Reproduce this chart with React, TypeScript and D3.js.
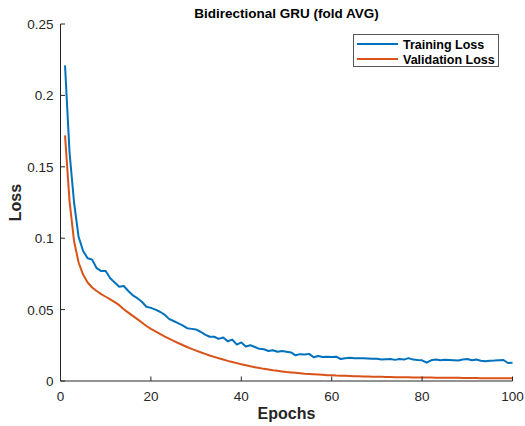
import React from "react";
import * as d3 from "d3";

const epochs: number[] = Array.from({ length: 100 }, (_, i) => i + 1);

const trainingLoss: number[] = [
  0.221, 0.160, 0.125, 0.101, 0.091, 0.086, 0.085, 0.079, 0.077, 0.077,
  0.072, 0.069, 0.066, 0.0665, 0.063, 0.060, 0.058, 0.0555, 0.052, 0.0512,
  0.050, 0.0485, 0.0465, 0.0435, 0.042, 0.0405, 0.039, 0.037, 0.0365, 0.036,
  0.0345, 0.0325, 0.031, 0.031, 0.0295, 0.0305, 0.0278, 0.029, 0.0255, 0.027,
  0.0242, 0.025, 0.0238, 0.0225, 0.0222, 0.021, 0.0215, 0.0205, 0.021, 0.0205,
  0.020, 0.018, 0.0188, 0.0185, 0.019, 0.0166, 0.0175, 0.0168, 0.017, 0.0168,
  0.017, 0.0154, 0.016, 0.0163, 0.016, 0.016, 0.016, 0.0158, 0.0155, 0.0156,
  0.015, 0.0152, 0.0154, 0.0148, 0.0154, 0.015, 0.016, 0.015, 0.0147, 0.0145,
  0.0128, 0.0145, 0.015, 0.0146, 0.0148, 0.0147, 0.0146, 0.0144, 0.015, 0.0154,
  0.0145, 0.015, 0.0142, 0.0138, 0.0142, 0.0143, 0.0145, 0.0147, 0.0126, 0.0128,
];

const validationLoss: number[] = [
  0.172, 0.126, 0.098, 0.083, 0.0745, 0.069, 0.0655, 0.063, 0.0608, 0.059,
  0.0572, 0.0552, 0.0531, 0.0503, 0.0479, 0.0456, 0.0433, 0.041, 0.0385, 0.0365,
  0.0347, 0.033, 0.0313, 0.0297, 0.0281, 0.0266, 0.0252, 0.0238, 0.0225, 0.0213,
  0.0201, 0.019, 0.0179, 0.0169, 0.0159, 0.015, 0.0141, 0.0133, 0.0125, 0.0117,
  0.011, 0.0103, 0.0097, 0.0091, 0.0085, 0.008, 0.0075, 0.0071, 0.0067, 0.0063,
  0.006, 0.0057, 0.0054, 0.0051, 0.0049, 0.0047, 0.0045, 0.0043, 0.0041, 0.004,
  0.0038, 0.0037, 0.0036, 0.0035, 0.0034, 0.0033, 0.0032, 0.0031, 0.003, 0.003,
  0.0029, 0.0028, 0.0028, 0.0027, 0.0027, 0.0026, 0.0026, 0.0025, 0.0025, 0.0025,
  0.0024, 0.0024, 0.0023, 0.0023, 0.0023, 0.0022, 0.0022, 0.0022, 0.0021, 0.0021,
  0.0021, 0.0021, 0.002, 0.002, 0.002, 0.002, 0.002, 0.0019, 0.0019, 0.0019,
];

const xTicks: number[] = [0, 20, 40, 60, 80, 100];
const yTicks: number[] = [0, 0.05, 0.1, 0.15, 0.2, 0.25];
const yTickLabels: string[] = ["0", "0.05", "0.1", "0.15", "0.2", "0.25"];
const seriesNames: string[] = ["Training Loss", "Validation Loss"];
const seriesColors: string[] = ["#0072BD", "#D95319"];

const W = 525;
const H = 426;
const left = 60.5;
const right = 512.5;
const top = 24;
const bottom = 381;
const axisColor = "#262626";
const font = "'Liberation Sans', Arial, Helvetica, sans-serif";

export default function App() {
  const x = d3.scaleLinear().domain([0, 100]).range([left, right]);
  const y = d3.scaleLinear().domain([0, 0.25]).range([bottom, top]);
  const line = d3
    .line<number>()
    .x((_, i) => x(epochs[i]))
    .y((d) => y(d));
  const series = [trainingLoss, validationLoss];

  return (
    <svg
      width={W}
      height={H}
      style={{ position: "absolute", left: 0, top: 0, background: "#fff" }}
      fontFamily={font}
    >
      <rect x={0} y={0} width={W} height={H} fill="#fff" />
      {/* title */}
      <text x={(left + right) / 2} y={18} textAnchor="middle" fontSize={13.5} fontWeight="bold" fill="#000">
        Bidirectional GRU (fold AVG)
      </text>
      {/* lines */}
      {series.map((s, k) => (
        <path key={k} d={line(s) || ""} fill="none" stroke={seriesColors[k]} strokeWidth={2} strokeLinejoin="round" />
      ))}
      {/* axes */}
      <line x1={left} x2={right} y1={bottom} y2={bottom} stroke={axisColor} strokeWidth={1} />
      <line x1={left} x2={left} y1={top} y2={bottom} stroke={axisColor} strokeWidth={1} />
      {xTicks.map((t) => (
        <g key={"x" + t}>
          <line x1={x(t)} x2={x(t)} y1={bottom} y2={bottom - 4.5} stroke={axisColor} strokeWidth={1} />
          <text x={x(t)} y={401} textAnchor="middle" fontSize={13.5} fill={axisColor}>
            {t}
          </text>
        </g>
      ))}
      {yTicks.map((t, i) => (
        <g key={"y" + t}>
          <line x1={left} x2={left + 4.5} y1={y(t)} y2={y(t)} stroke={axisColor} strokeWidth={1} />
          <text x={left - 7} y={y(t) + 5} textAnchor="end" fontSize={13.5} fill={axisColor}>
            {yTickLabels[i]}
          </text>
        </g>
      ))}
      {/* axis labels */}
      <text x={(left + right) / 2} y={419} textAnchor="middle" fontSize={16} fontWeight="bold" fill={axisColor}>
        Epochs
      </text>
      <text
        transform={`translate(21,${(top + bottom) / 2}) rotate(-90)`}
        textAnchor="middle"
        fontSize={16}
        fontWeight="bold"
        fill={axisColor}
      >
        Loss
      </text>
      {/* legend */}
      <rect x={353.5} y={34.5} width={145} height={32} fill="#fff" stroke="#555" strokeWidth={1} />
      {seriesNames.map((n, k) => (
        <g key={n}>
          <line x1={357} x2={398} y1={44 + k * 15} y2={44 + k * 15} stroke={seriesColors[k]} strokeWidth={2} />
          <text x={403} y={48.5 + k * 15} fontSize={12.5} fontWeight="bold" fill="#000">
            {n}
          </text>
        </g>
      ))}
    </svg>
  );
}
